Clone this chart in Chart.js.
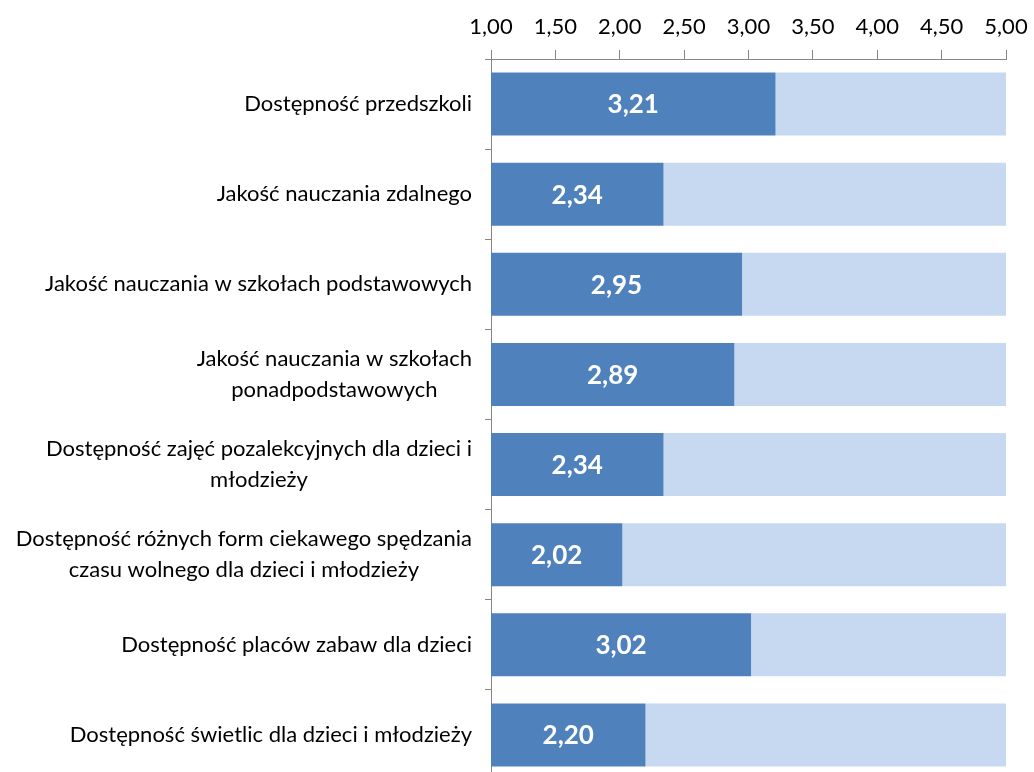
<!DOCTYPE html>
<html>
<head>
<meta charset="utf-8">
<script src="https://cdn.jsdelivr.net/npm/chart.js@4/dist/chart.umd.min.js"></script>
<style>
  html, body { margin: 0; padding: 0; background: #fff; overflow: hidden; }
  #wrap { width: 1034px; height: 772px; overflow: hidden; }
</style>
</head>
<body>
<div id="wrap"><canvas id="chart" width="1034" height="780"></canvas></div>
<script>
const categories = [
    ['Dostępność przedszkoli'],
    ['Jakość nauczania zdalnego'],
    ['Jakość nauczania w szkołach podstawowych'],
    ['Jakość nauczania w szkołach', 'ponadpodstawowych'],
    ['Dostępność zajęć pozalekcyjnych dla dzieci i', 'młodzieży'],
    ['Dostępność różnych form ciekawego spędzania', 'czasu wolnego dla dzieci i młodzieży'],
    ['Dostępność placów zabaw dla dzieci'],
    ['Dostępność świetlic dla dzieci i młodzieży']
];
const scores = [3.21, 2.34, 2.95, 2.89, 2.34, 2.02, 3.02, 2.20];
const scaleMin = 1;
const scaleMax = 5;

const FONT = 'Lato, "Open Sans", sans-serif';
const fmt = v => v.toFixed(2).replace('.', ',');

// value labels inside the dark bars
const valueLabels = {
    id: 'valueLabels',
    afterDatasetsDraw(chart) {
        const ctx = chart.ctx;
        const meta = chart.getDatasetMeta(0);
        ctx.save();
        ctx.font = 'bold 26px ' + FONT;
        ctx.fillStyle = '#ffffff';
        ctx.textAlign = 'center';
        ctx.textBaseline = 'middle';
        meta.data.forEach((bar, i) => {
            const left = chart.scales.x.getPixelForValue(scaleMin);
            ctx.fillText(fmt(scores[i]), (left + bar.x) / 2, bar.y + 1);
        });
        ctx.restore();
    }
};

// category labels: block right-aligned, lines centred within the block
const categoryLabels = {
    id: 'categoryLabels',
    afterDraw(chart) {
        const ctx = chart.ctx;
        const y = chart.scales.y;
        const right = 472;
        const lineH = 31;
        ctx.save();
        ctx.font = '22px ' + FONT;
        ctx.fillStyle = '#000000';
        ctx.textAlign = 'center';
        ctx.textBaseline = 'middle';
        categories.forEach((lines, i) => {
            const w = Math.max(...lines.map(l => ctx.measureText(l).width));
            const cx = right - w / 2;
            const cy = y.getPixelForValue(i);
            lines.forEach((l, k) => {
                ctx.fillText(l, cx, cy + (k - (lines.length - 1) / 2) * lineH);
            });
        });
        ctx.restore();
    }
};

new Chart(document.getElementById('chart'), {
    type: 'bar',
    data: {
        labels: categories,
        datasets: [
            {
                data: scores.map(v => [scaleMin, v]),
                backgroundColor: '#4f81bd',
                grouped: false,
                categoryPercentage: 1,
                barPercentage: 0.70
            },
            {
                data: scores.map(v => [v, scaleMax]),
                backgroundColor: '#c6d9f1',
                grouped: false,
                categoryPercentage: 1,
                barPercentage: 0.70
            }
        ]
    },
    options: {
        indexAxis: 'y',
        responsive: false,
        animation: false,
        layout: { padding: { left: 0, right: 28, top: 0, bottom: 0 } },
        plugins: {
            legend: { display: false },
            tooltip: { enabled: false }
        },
        scales: {
            x: {
                position: 'top',
                min: scaleMin,
                max: scaleMax,
                afterFit: s => {
                    s.height = 59;
                    s.paddingLeft = 0;
                    s.paddingRight = 0;
                },
                ticks: {
                    stepSize: 0.5,
                    padding: 10,
                    color: '#000',
                    font: { family: FONT, size: 22 },
                    callback: v => fmt(v)
                },
                grid: { drawOnChartArea: false, tickLength: 9, color: '#868686' },
                border: { color: '#868686' }
            },
            y: {
                afterFit: s => { s.width = 491; },
                ticks: { display: false },
                grid: { offset: true, drawOnChartArea: false, tickLength: 6, color: '#868686' },
                border: { color: '#868686' }
            }
        }
    },
    plugins: [valueLabels, categoryLabels]
});
</script>
</body>
</html>
